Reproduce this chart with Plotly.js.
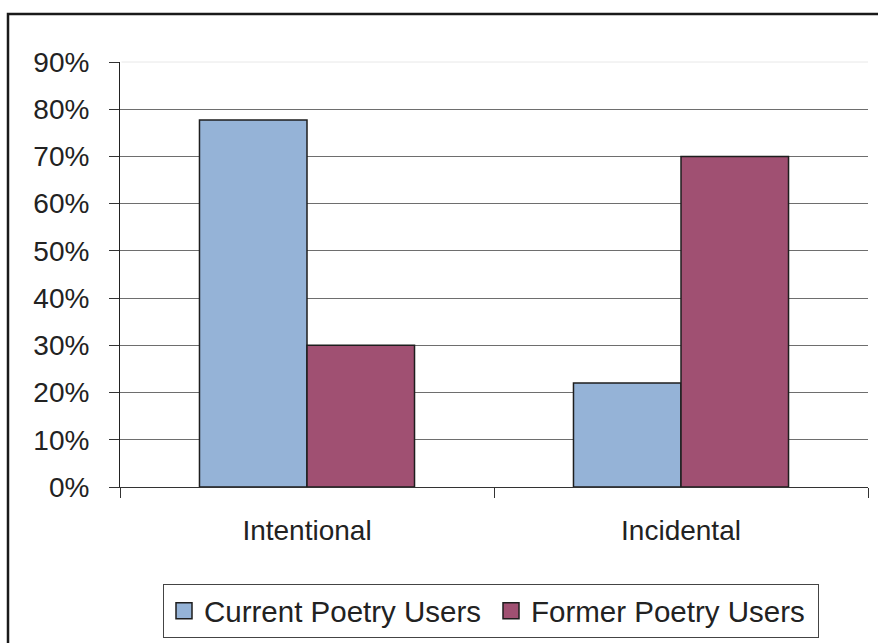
<!DOCTYPE html>
<html>
<head>
<meta charset="utf-8">
<script src="https://cdn.plot.ly/plotly-3.0.1.min.js"></script>
<style>
html,body{margin:0;padding:0;background:#fff;}
#chart{width:878px;height:643px;}
</style>
</head>
<body>
<div id="chart"></div>
<script>
const categories = ["Intentional", "Incidental"];
const seriesNames = ["Current Poetry Users", "Former Poetry Users"];
const currentUsers = [0.777, 0.22];
const formerUsers = [0.30, 0.70];
const yTickValues = [0, 0.1, 0.2, 0.3, 0.4, 0.5, 0.6, 0.7, 0.8, 0.9];

const colors = ["#95B3D7", "#A05072"];
const outline = "#1e1e1e";
const font = "Liberation Sans, Arial, sans-serif";

const W = 878, H = 643;
const M = {l: 120, r: 10, t: 62, b: 156, autoexpand: false};
const pw = W - M.l - M.r, ph = H - M.t - M.b;
const px = v => (v - M.l) / pw;
const py = v => (H - M.b - v) / ph;

const traces = [
  {type: "bar", x: categories, y: currentUsers, name: seriesNames[0], showlegend: false,
   marker: {color: colors[0], line: {color: outline, width: 1.5}}},
  {type: "bar", x: categories, y: formerUsers, name: seriesNames[1], showlegend: false,
   marker: {color: colors[1], line: {color: outline, width: 1.5}}},
  {type: "scatter", mode: "markers", x: [null], y: [null], name: seriesNames[0], hoverinfo: "skip",
   marker: {symbol: "square", size: 17, color: colors[0], line: {color: outline, width: 1.5}}},
  {type: "scatter", mode: "markers", x: [null], y: [null], name: seriesNames[1], hoverinfo: "skip",
   marker: {symbol: "square", size: 17, color: colors[1], line: {color: outline, width: 1.5}}}
];

const layout = {
  width: W, height: H,
  margin: M,
  paper_bgcolor: "#fff", plot_bgcolor: "#fff",
  font: {family: font, size: 28, color: "#222"},
  barmode: "group",
  bargap: 0.425,
  bargroupgap: 0,
  showlegend: true,
  legend: {
    orientation: "h",
    x: px(163), xanchor: "left",
    y: py(584), yanchor: "top",
    bordercolor: "#444", borderwidth: 1,
    bgcolor: "#fff",
    font: {family: font, size: 29.5, color: "#222"},
    itemwidth: 30,
    entrywidth: 282,
    traceorder: "normal"
  },
  xaxis: {
    type: "category",
    showline: true, linecolor: "#333", linewidth: 1,
    ticks: "outside", tickson: "boundaries", ticklen: 10, tickcolor: "#333", tickwidth: 1,
    showgrid: false, zeroline: false,
    ticklabelstandoff: 18,
    tickfont: {family: font, size: 28, color: "#222"}
  },
  yaxis: {
    range: [0, 0.9],
    tickvals: yTickValues,
    tickformat: ".0%",
    showline: true, linecolor: "#222", linewidth: 1,
    ticks: "outside", ticklen: 10, tickcolor: "#333", tickwidth: 1,
    showgrid: true, gridcolor: "#6e6e6e", gridwidth: 1,
    zeroline: false,
    ticklabelstandoff: 14,
    tickfont: {family: font, size: 28, color: "#222"}
  },
  shapes: [
    {type: "line", xref: "paper", yref: "paper", x0: 0.002, x1: 1, y0: 1, y1: 1,
     line: {color: "#e8e8e8", width: 1}, layer: "above"},
    {type: "rect", xref: "paper", yref: "paper",
     x0: px(8), x1: px(900), y0: py(14), y1: py(680),
     line: {color: "#1a1a1a", width: 2.5}, fillcolor: "rgba(0,0,0,0)", layer: "above"}
  ]
};

Plotly.newPlot("chart", traces, layout, {displayModeBar: false, staticPlot: true});
</script>
</body>
</html>
